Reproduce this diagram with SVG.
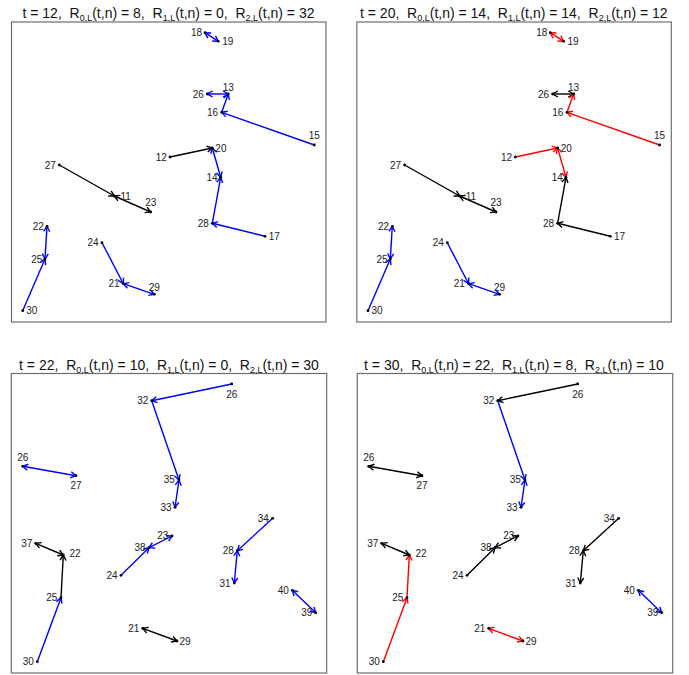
<svg xmlns="http://www.w3.org/2000/svg" width="689" height="675" viewBox="0 0 689 675">
<style>
.frame{fill:#fff;stroke:#6e6e6e;stroke-width:1.2}
.title{font-family:"Liberation Sans",Arial,sans-serif;font-size:14px;fill:#111;text-anchor:middle;white-space:pre}
.lbl{font-family:"Liberation Sans",Arial,sans-serif;font-size:10px;fill:#222;text-anchor:middle}
.node circle{fill:#000}
.e{stroke-width:1.4;fill:none}
.b{stroke:#0000ff;marker-end:url(#mb)}
.r{stroke:#ff0000;marker-end:url(#mr)}
.k{stroke:#000;marker-end:url(#mk)}
.b.d{marker-start:url(#mb)}
.r.d{marker-start:url(#mr)}
.k.d{marker-start:url(#mk)}
</style>
<defs>
<marker id="mb" viewBox="0 0 10 10" refX="9.5" refY="5" markerWidth="10" markerHeight="10" markerUnits="userSpaceOnUse" orient="auto-start-reverse"><path d="M4.2,2 L9.5,5 L4.2,8" fill="none" stroke="#0000ff" stroke-width="1.4"/></marker>
<marker id="mr" viewBox="0 0 10 10" refX="9.5" refY="5" markerWidth="10" markerHeight="10" markerUnits="userSpaceOnUse" orient="auto-start-reverse"><path d="M4.2,2 L9.5,5 L4.2,8" fill="none" stroke="#ff0000" stroke-width="1.4"/></marker>
<marker id="mk" viewBox="0 0 10 10" refX="9.5" refY="5" markerWidth="10" markerHeight="10" markerUnits="userSpaceOnUse" orient="auto-start-reverse"><path d="M4.2,2 L9.5,5 L4.2,8" fill="none" stroke="#000" stroke-width="1.4"/></marker>
</defs>
<rect width="689" height="675" fill="#fff"/>

<!-- Panel 1 -->
<g id="panel1">
<rect class="frame" x="11.5" y="22" width="314.5" height="300"/>
<text class="title" x="168.5" y="18.3">t = 12,  R<tspan font-size="9" dy="3">0,L</tspan><tspan dy="-3">(t,n) = 8,  R</tspan><tspan font-size="9" dy="3">1,L</tspan><tspan dy="-3">(t,n) = 0,  R</tspan><tspan font-size="9" dy="3">2,L</tspan><tspan dy="-3">(t,n) = 32</tspan></text>
<g id="p1-edges">
<line class="e b d" x1="205" y1="32.7" x2="218.3" y2="41.3"/>
<line class="e b d" x1="207.3" y1="94" x2="228.3" y2="94"/>
<line class="e b" x1="221.7" y1="112.3" x2="228.3" y2="94"/>
<line class="e b" x1="314.3" y1="145" x2="221.7" y2="112.3"/>
<line class="e k" x1="170" y1="157" x2="212.3" y2="148"/>
<line class="e b d" x1="220.7" y1="177.3" x2="212.3" y2="148"/>
<line class="e b" x1="212.3" y1="223.3" x2="220.7" y2="177.3"/>
<line class="e b" x1="265" y1="236.3" x2="212.3" y2="223.3"/>
<line class="e k" x1="59.3" y1="165" x2="114.3" y2="196"/>
<line class="e k d" x1="114.3" y1="196" x2="150.7" y2="212"/>
<line class="e b d" x1="45" y1="259" x2="47" y2="226.3"/>
<line class="e b" x1="22.7" y1="310.7" x2="45" y2="259"/>
<line class="e b" x1="102" y1="242.7" x2="123.3" y2="283.7"/>
<line class="e b d" x1="123.3" y1="283.7" x2="154.3" y2="294.3"/>
</g>
<g id="p1-n18" class="node"><circle cx="205" cy="32.7" r="1.4"/><text class="lbl" x="196.5" y="36.2">18</text></g>
<g id="p1-n19" class="node"><circle cx="218.3" cy="41.3" r="1.4"/><text class="lbl" x="227.7" y="44.8">19</text></g>
<g id="p1-n13" class="node"><circle cx="228.3" cy="94" r="1.4"/><text class="lbl" x="228.3" y="90.8">13</text></g>
<g id="p1-n26" class="node"><circle cx="207.3" cy="94" r="1.4"/><text class="lbl" x="198.3" y="97.5">26</text></g>
<g id="p1-n16" class="node"><circle cx="221.7" cy="112.3" r="1.4"/><text class="lbl" x="212.5" y="115.8">16</text></g>
<g id="p1-n15" class="node"><circle cx="314.3" cy="145" r="1.4"/><text class="lbl" x="314.3" y="139.2">15</text></g>
<g id="p1-n12" class="node"><circle cx="170" cy="157" r="1.4"/><text class="lbl" x="161.3" y="160.5">12</text></g>
<g id="p1-n20" class="node"><circle cx="212.3" cy="148" r="1.4"/><text class="lbl" x="220.9" y="151.5">20</text></g>
<g id="p1-n27" class="node"><circle cx="59.3" cy="165" r="1.4"/><text class="lbl" x="50.2" y="168.5">27</text></g>
<g id="p1-n11" class="node"><circle cx="114.3" cy="196" r="1.4"/><text class="lbl" x="125.7" y="199.5">11</text></g>
<g id="p1-n23" class="node"><circle cx="150.7" cy="212" r="1.4"/><text class="lbl" x="150.7" y="206.2">23</text></g>
<g id="p1-n14" class="node"><circle cx="220.7" cy="177.3" r="1.4"/><text class="lbl" x="212" y="180.8">14</text></g>
<g id="p1-n28" class="node"><circle cx="212.3" cy="223.3" r="1.4"/><text class="lbl" x="203.3" y="226.8">28</text></g>
<g id="p1-n17" class="node"><circle cx="265" cy="236.3" r="1.4"/><text class="lbl" x="274.3" y="239.8">17</text></g>
<g id="p1-n22" class="node"><circle cx="47" cy="226.3" r="1.4"/><text class="lbl" x="38.3" y="229.8">22</text></g>
<g id="p1-n25" class="node"><circle cx="45" cy="259" r="1.4"/><text class="lbl" x="36.7" y="262.5">25</text></g>
<g id="p1-n30" class="node"><circle cx="22.7" cy="310.7" r="1.4"/><text class="lbl" x="31.7" y="314.2">30</text></g>
<g id="p1-n24" class="node"><circle cx="102" cy="242.7" r="1.4"/><text class="lbl" x="93" y="246.2">24</text></g>
<g id="p1-n21" class="node"><circle cx="123.3" cy="283.7" r="1.4"/><text class="lbl" x="114" y="287.2">21</text></g>
<g id="p1-n29" class="node"><circle cx="154.3" cy="294.3" r="1.4"/><text class="lbl" x="154.3" y="290.8">29</text></g>
</g>

<!-- Panel 2 -->
<g id="panel2" transform="translate(345.3,0)">
<rect class="frame" x="11.5" y="22" width="314.5" height="300"/>
<text class="title" x="168.5" y="18.3">t = 20,  R<tspan font-size="9" dy="3">0,L</tspan><tspan dy="-3">(t,n) = 14,  R</tspan><tspan font-size="9" dy="3">1,L</tspan><tspan dy="-3">(t,n) = 14,  R</tspan><tspan font-size="9" dy="3">2,L</tspan><tspan dy="-3">(t,n) = 12</tspan></text>
<g id="p2-edges">
<line class="e r d" x1="205" y1="32.7" x2="218.3" y2="41.3"/>
<line class="e k d" x1="207.3" y1="94" x2="228.3" y2="94"/>
<line class="e r" x1="221.7" y1="112.3" x2="228.3" y2="94"/>
<line class="e r" x1="314.3" y1="145" x2="221.7" y2="112.3"/>
<line class="e r" x1="170" y1="157" x2="212.3" y2="148"/>
<line class="e r d" x1="220.7" y1="177.3" x2="212.3" y2="148"/>
<line class="e k" x1="212.3" y1="223.3" x2="220.7" y2="177.3"/>
<line class="e k" x1="265" y1="236.3" x2="212.3" y2="223.3"/>
<line class="e k" x1="59.3" y1="165" x2="114.3" y2="196"/>
<line class="e k d" x1="114.3" y1="196" x2="150.7" y2="212"/>
<line class="e b d" x1="45" y1="259" x2="47" y2="226.3"/>
<line class="e b" x1="22.7" y1="310.7" x2="45" y2="259"/>
<line class="e b" x1="102" y1="242.7" x2="123.3" y2="283.7"/>
<line class="e b d" x1="123.3" y1="283.7" x2="154.3" y2="294.3"/>
</g>
<g id="p2-n18" class="node"><circle cx="205" cy="32.7" r="1.4"/><text class="lbl" x="196.5" y="36.2">18</text></g>
<g id="p2-n19" class="node"><circle cx="218.3" cy="41.3" r="1.4"/><text class="lbl" x="227.7" y="44.8">19</text></g>
<g id="p2-n13" class="node"><circle cx="228.3" cy="94" r="1.4"/><text class="lbl" x="228.3" y="90.8">13</text></g>
<g id="p2-n26" class="node"><circle cx="207.3" cy="94" r="1.4"/><text class="lbl" x="198.3" y="97.5">26</text></g>
<g id="p2-n16" class="node"><circle cx="221.7" cy="112.3" r="1.4"/><text class="lbl" x="212.5" y="115.8">16</text></g>
<g id="p2-n15" class="node"><circle cx="314.3" cy="145" r="1.4"/><text class="lbl" x="314.3" y="139.2">15</text></g>
<g id="p2-n12" class="node"><circle cx="170" cy="157" r="1.4"/><text class="lbl" x="161.3" y="160.5">12</text></g>
<g id="p2-n20" class="node"><circle cx="212.3" cy="148" r="1.4"/><text class="lbl" x="220.9" y="151.5">20</text></g>
<g id="p2-n27" class="node"><circle cx="59.3" cy="165" r="1.4"/><text class="lbl" x="50.2" y="168.5">27</text></g>
<g id="p2-n11" class="node"><circle cx="114.3" cy="196" r="1.4"/><text class="lbl" x="125.7" y="199.5">11</text></g>
<g id="p2-n23" class="node"><circle cx="150.7" cy="212" r="1.4"/><text class="lbl" x="150.7" y="206.2">23</text></g>
<g id="p2-n14" class="node"><circle cx="220.7" cy="177.3" r="1.4"/><text class="lbl" x="212" y="180.8">14</text></g>
<g id="p2-n28" class="node"><circle cx="212.3" cy="223.3" r="1.4"/><text class="lbl" x="203.3" y="226.8">28</text></g>
<g id="p2-n17" class="node"><circle cx="265" cy="236.3" r="1.4"/><text class="lbl" x="274.3" y="239.8">17</text></g>
<g id="p2-n22" class="node"><circle cx="47" cy="226.3" r="1.4"/><text class="lbl" x="38.3" y="229.8">22</text></g>
<g id="p2-n25" class="node"><circle cx="45" cy="259" r="1.4"/><text class="lbl" x="36.7" y="262.5">25</text></g>
<g id="p2-n30" class="node"><circle cx="22.7" cy="310.7" r="1.4"/><text class="lbl" x="31.7" y="314.2">30</text></g>
<g id="p2-n24" class="node"><circle cx="102" cy="242.7" r="1.4"/><text class="lbl" x="93" y="246.2">24</text></g>
<g id="p2-n21" class="node"><circle cx="123.3" cy="283.7" r="1.4"/><text class="lbl" x="114" y="287.2">21</text></g>
<g id="p2-n29" class="node"><circle cx="154.3" cy="294.3" r="1.4"/><text class="lbl" x="154.3" y="290.8">29</text></g>
</g>

<!-- Panel 3 -->
<g id="panel3">
<rect class="frame" x="11.3" y="373.5" width="315.4" height="299.5"/>
<text class="title" x="169" y="370">t = 22,  R<tspan font-size="9" dy="3">0,L</tspan><tspan dy="-3">(t,n) = 10,  R</tspan><tspan font-size="9" dy="3">1,L</tspan><tspan dy="-3">(t,n) = 0,  R</tspan><tspan font-size="9" dy="3">2,L</tspan><tspan dy="-3">(t,n) = 30</tspan></text>
<g id="p3-edges">
<line class="e b" x1="231.7" y1="384" x2="151.7" y2="400.7"/>
<line class="e b" x1="151.7" y1="400.7" x2="179" y2="480"/>
<line class="e b d" x1="175" y1="507.3" x2="179" y2="480"/>
<line class="e b d" x1="22.7" y1="466.3" x2="76" y2="475.7"/>
<line class="e b" x1="272.7" y1="518.3" x2="237.3" y2="550.7"/>
<line class="e b d" x1="234.3" y1="583" x2="237.3" y2="550.7"/>
<line class="e b d" x1="292.3" y1="590.3" x2="315.7" y2="612.7"/>
<line class="e b" x1="121" y1="575.3" x2="149" y2="547.7"/>
<line class="e b d" x1="149" y1="547.7" x2="172" y2="536"/>
<line class="e k d" x1="35.7" y1="543.3" x2="63.3" y2="555"/>
<line class="e k" x1="61" y1="597.7" x2="63.3" y2="555"/>
<line class="e b" x1="37.3" y1="661.7" x2="61" y2="597.7"/>
<line class="e k d" x1="142.7" y1="628.3" x2="177" y2="641"/>
</g>
<g id="p3-n26a" class="node"><circle cx="231.7" cy="384" r="1.4"/><text class="lbl" x="231.7" y="397.5">26</text></g>
<g id="p3-n32" class="node"><circle cx="151.7" cy="400.7" r="1.4"/><text class="lbl" x="142.7" y="404.2">32</text></g>
<g id="p3-n26b" class="node"><circle cx="22.7" cy="466.3" r="1.4"/><text class="lbl" x="22.7" y="460.5">26</text></g>
<g id="p3-n27" class="node"><circle cx="76" cy="475.7" r="1.4"/><text class="lbl" x="76" y="488.8">27</text></g>
<g id="p3-n35" class="node"><circle cx="179" cy="480" r="1.4"/><text class="lbl" x="169.3" y="482.8">35</text></g>
<g id="p3-n33" class="node"><circle cx="175" cy="507.3" r="1.4"/><text class="lbl" x="166" y="510.8">33</text></g>
<g id="p3-n34" class="node"><circle cx="272.7" cy="518.3" r="1.4"/><text class="lbl" x="263.3" y="521.8">34</text></g>
<g id="p3-n37" class="node"><circle cx="35.7" cy="543.3" r="1.4"/><text class="lbl" x="26.7" y="546.8">37</text></g>
<g id="p3-n22" class="node"><circle cx="63.3" cy="555" r="1.4"/><text class="lbl" x="75" y="557.2">22</text></g>
<g id="p3-n23" class="node"><circle cx="172" cy="536" r="1.4"/><text class="lbl" x="162.7" y="539.2">23</text></g>
<g id="p3-n38" class="node"><circle cx="149" cy="547.7" r="1.4"/><text class="lbl" x="140" y="551.2">38</text></g>
<g id="p3-n24" class="node"><circle cx="121" cy="575.3" r="1.4"/><text class="lbl" x="112" y="578.8">24</text></g>
<g id="p3-n28" class="node"><circle cx="237.3" cy="550.7" r="1.4"/><text class="lbl" x="228.3" y="554.2">28</text></g>
<g id="p3-n31" class="node"><circle cx="234.3" cy="583" r="1.4"/><text class="lbl" x="225" y="586.5">31</text></g>
<g id="p3-n40" class="node"><circle cx="292.3" cy="590.3" r="1.4"/><text class="lbl" x="283.3" y="593.8">40</text></g>
<g id="p3-n39" class="node"><circle cx="315.7" cy="612.7" r="1.4"/><text class="lbl" x="306.7" y="616.2">39</text></g>
<g id="p3-n25" class="node"><circle cx="61" cy="597.7" r="1.4"/><text class="lbl" x="51.7" y="601.2">25</text></g>
<g id="p3-n30" class="node"><circle cx="37.3" cy="661.7" r="1.4"/><text class="lbl" x="28.3" y="665.2">30</text></g>
<g id="p3-n21" class="node"><circle cx="142.7" cy="628.3" r="1.4"/><text class="lbl" x="133.7" y="631.8">21</text></g>
<g id="p3-n29" class="node"><circle cx="177" cy="641" r="1.4"/><text class="lbl" x="185" y="644.5">29</text></g>
</g>

<!-- Panel 4 -->
<g id="panel4" transform="translate(346,0)">
<rect class="frame" x="11.3" y="373.5" width="315.4" height="299.5"/>
<text class="title" x="168" y="370">t = 30,  R<tspan font-size="9" dy="3">0,L</tspan><tspan dy="-3">(t,n) = 22,  R</tspan><tspan font-size="9" dy="3">1,L</tspan><tspan dy="-3">(t,n) = 8,  R</tspan><tspan font-size="9" dy="3">2,L</tspan><tspan dy="-3">(t,n) = 10</tspan></text>
<g id="p4-edges">
<line class="e k" x1="231.7" y1="384" x2="151.7" y2="400.7"/>
<line class="e b" x1="151.7" y1="400.7" x2="179" y2="480"/>
<line class="e b d" x1="175" y1="507.3" x2="179" y2="480"/>
<line class="e k d" x1="22.7" y1="466.3" x2="76" y2="475.7"/>
<line class="e k" x1="272.7" y1="518.3" x2="237.3" y2="550.7"/>
<line class="e k d" x1="234.3" y1="583" x2="237.3" y2="550.7"/>
<line class="e b d" x1="292.3" y1="590.3" x2="315.7" y2="612.7"/>
<line class="e k" x1="121" y1="575.3" x2="149" y2="547.7"/>
<line class="e k d" x1="149" y1="547.7" x2="172" y2="536"/>
<line class="e k d" x1="35.7" y1="543.3" x2="63.3" y2="555"/>
<line class="e r" x1="61" y1="597.7" x2="63.3" y2="555"/>
<line class="e r" x1="37.3" y1="661.7" x2="61" y2="597.7"/>
<line class="e r d" x1="142.7" y1="628.3" x2="177" y2="641"/>
</g>
<g id="p4-n26a" class="node"><circle cx="231.7" cy="384" r="1.4"/><text class="lbl" x="231.7" y="397.5">26</text></g>
<g id="p4-n32" class="node"><circle cx="151.7" cy="400.7" r="1.4"/><text class="lbl" x="142.7" y="404.2">32</text></g>
<g id="p4-n26b" class="node"><circle cx="22.7" cy="466.3" r="1.4"/><text class="lbl" x="22.7" y="460.5">26</text></g>
<g id="p4-n27" class="node"><circle cx="76" cy="475.7" r="1.4"/><text class="lbl" x="76" y="488.8">27</text></g>
<g id="p4-n35" class="node"><circle cx="179" cy="480" r="1.4"/><text class="lbl" x="169.3" y="482.8">35</text></g>
<g id="p4-n33" class="node"><circle cx="175" cy="507.3" r="1.4"/><text class="lbl" x="166" y="510.8">33</text></g>
<g id="p4-n34" class="node"><circle cx="272.7" cy="518.3" r="1.4"/><text class="lbl" x="263.3" y="521.8">34</text></g>
<g id="p4-n37" class="node"><circle cx="35.7" cy="543.3" r="1.4"/><text class="lbl" x="26.7" y="546.8">37</text></g>
<g id="p4-n22" class="node"><circle cx="63.3" cy="555" r="1.4"/><text class="lbl" x="75" y="557.2">22</text></g>
<g id="p4-n23" class="node"><circle cx="172" cy="536" r="1.4"/><text class="lbl" x="162.7" y="539.2">23</text></g>
<g id="p4-n38" class="node"><circle cx="149" cy="547.7" r="1.4"/><text class="lbl" x="140" y="551.2">38</text></g>
<g id="p4-n24" class="node"><circle cx="121" cy="575.3" r="1.4"/><text class="lbl" x="112" y="578.8">24</text></g>
<g id="p4-n28" class="node"><circle cx="237.3" cy="550.7" r="1.4"/><text class="lbl" x="228.3" y="554.2">28</text></g>
<g id="p4-n31" class="node"><circle cx="234.3" cy="583" r="1.4"/><text class="lbl" x="225" y="586.5">31</text></g>
<g id="p4-n40" class="node"><circle cx="292.3" cy="590.3" r="1.4"/><text class="lbl" x="283.3" y="593.8">40</text></g>
<g id="p4-n39" class="node"><circle cx="315.7" cy="612.7" r="1.4"/><text class="lbl" x="306.7" y="616.2">39</text></g>
<g id="p4-n25" class="node"><circle cx="61" cy="597.7" r="1.4"/><text class="lbl" x="51.7" y="601.2">25</text></g>
<g id="p4-n30" class="node"><circle cx="37.3" cy="661.7" r="1.4"/><text class="lbl" x="28.3" y="665.2">30</text></g>
<g id="p4-n21" class="node"><circle cx="142.7" cy="628.3" r="1.4"/><text class="lbl" x="133.7" y="631.8">21</text></g>
<g id="p4-n29" class="node"><circle cx="177" cy="641" r="1.4"/><text class="lbl" x="185" y="644.5">29</text></g>
</g>
</svg>
